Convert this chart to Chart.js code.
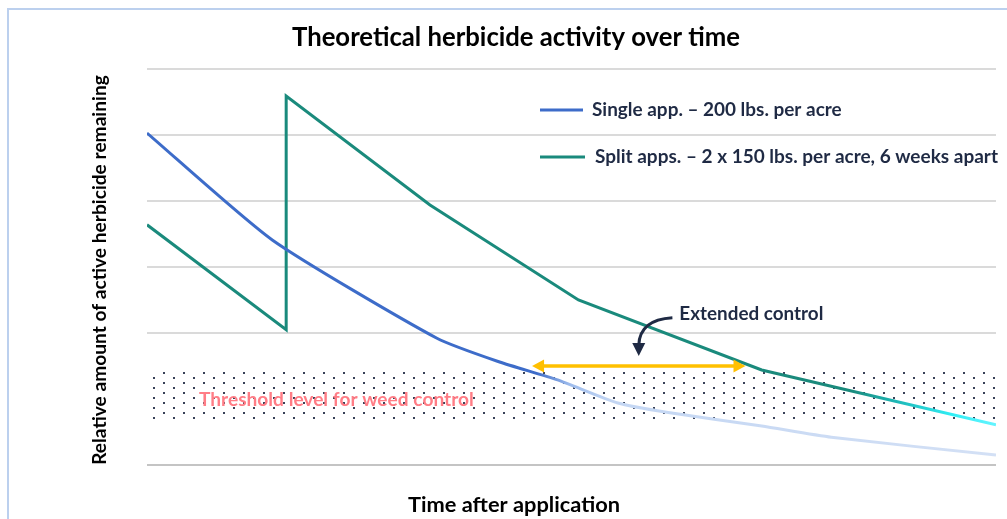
<!DOCTYPE html>
<html>
<head>
<meta charset="utf-8">
<title>Theoretical herbicide activity over time</title>
<script src="https://cdn.jsdelivr.net/npm/chart.js@4.4.1/dist/chart.umd.min.js"></script>
<style>
    html, body { margin: 0; padding: 0; background: #fff; }
    #wrap { width: 1007px; height: 519px; position: relative; }
</style>
</head>
<body>
<div id="wrap"><canvas id="activity-chart"></canvas></div>
<script>
"use strict";

// weeks after the first application, relative amount of herbicide left
var singleWeeks = [0, 5.4, 12.5, 15.2, 17.7, 20.3, 22.4, 26.5, 29.5, 36.6];
var singleLevel = [5.03, 3.41, 1.92, 1.56, 1.29, 0.94, 0.80, 0.59, 0.42, 0.15];
var splitWeeks = [0, 6, 6, 12.2, 18.6, 26.5, 36.6];
var splitLevel = [3.64, 2.05, 5.59, 3.94, 2.50, 1.44, 0.61];

var levelTicks = [0, 1, 2, 3, 4, 5, 6];
var thresholdBand = [0.65, 1.42];       // weed control threshold (low, high)
var extendedSpan = [16.6, 25.8];        // weeks where split apps still control weeds
var extendedLevel = 1.5;

var seriesLabels = ["Single app. \u2013 200 lbs. per acre",
    "Split apps. \u2013 2 x 150 lbs. per acre, 6 weeks apart"];

var FONT = "Lato, 'Open Sans', sans-serif";
var NAVY = "#1f2a44";
var BLUE = "#3d6cc9";
var TEAL = "#1a8a7c";

// font size that makes the text exactly `width` wide
function fitFont(ctx, text, width, weight) {
    ctx.font = weight + " 100px " + FONT;
    var size = 100 * width / ctx.measureText(text).width;
    return weight + " " + size.toFixed(2) + "px " + FONT;
}

function strokeGradient(chart, stops) {
    var area = chart.chartArea;
    if (!area) return stops[0][1];
    var xs = chart.scales.x;
    var g = chart.ctx.createLinearGradient(area.left, 0, area.right, 0);
    stops.forEach(function (s) {
        var p = (xs.getPixelForValue(s[0]) - area.left) / (area.right - area.left);
        g.addColorStop(Math.min(1, Math.max(0, p)), s[1]);
    });
    return g;
}

function dotPattern(ctx) {
    var tile = document.createElement("canvas");
    tile.width = 20;
    tile.height = 10;
    var t = tile.getContext("2d");
    t.fillStyle = "#384157";
    t.fillRect(3, 2, 2, 2);
    t.fillRect(13, 7, 2, 2);
    return ctx.createPattern(tile, "repeat");
}

function arrowHead(ctx, x, y, dx, dy, len, half) {
    ctx.beginPath();
    ctx.moveTo(x, y);
    ctx.lineTo(x - dx * len - dy * half, y - dy * len + dx * half);
    ctx.lineTo(x - dx * len + dy * half, y - dy * len - dx * half);
    ctx.closePath();
    ctx.fill();
}

var decor = {
    id: "herbicideDecor",
    beforeDraw: function (chart) {
        var ctx = chart.ctx;
        ctx.save();
        ctx.strokeStyle = "#bcd0ee";
        ctx.lineWidth = 2;
        ctx.strokeRect(8, 9, 1100, 600);
        ctx.restore();
    },
    beforeDatasetsDraw: function (chart) {
        var ctx = chart.ctx, area = chart.chartArea;
        var ys = chart.scales.y, xs = chart.scales.x;
        var top = Math.round(ys.getPixelForValue(thresholdBand[1]));
        var bottom = Math.round(ys.getPixelForValue(thresholdBand[0]));
        ctx.save();
        ctx.fillStyle = "#fff";
        ctx.fillRect(area.left - 1, top, area.right - area.left + 2, bottom - top);
        ctx.fillStyle = dotPattern(ctx);
        ctx.fillRect(area.left - 1, top, area.right - area.left + 2, bottom - top);

        var label = "Threshold level for weed control";
        ctx.font = fitFont(ctx, label, 275, "bold");
        ctx.fillStyle = "#ff7d86";
        ctx.textBaseline = "middle";
        ctx.fillText(label, xs.getPixelForValue(2.24), ys.getPixelForValue(0.985));
        ctx.restore();
    },
    afterDatasetsDraw: function (chart) {
        var ctx = chart.ctx;
        var xs = chart.scales.x, ys = chart.scales.y;
        ctx.save();

        // extended control span
        var x1 = xs.getPixelForValue(extendedSpan[0]);
        var x2 = xs.getPixelForValue(extendedSpan[1]);
        var y = ys.getPixelForValue(extendedLevel);
        ctx.strokeStyle = "#ffc000";
        ctx.fillStyle = "#ffc000";
        ctx.lineWidth = 3.5;
        ctx.beginPath();
        ctx.moveTo(x1 + 8, y);
        ctx.lineTo(x2 - 8, y);
        ctx.stroke();
        arrowHead(ctx, x1, y, -1, 0, 12, 6.5);
        arrowHead(ctx, x2, y, 1, 0, 12, 6.5);

        // callout
        var tipX = xs.getPixelForValue(21.2), tipY = ys.getPixelForValue(1.65);
        var sx = xs.getPixelForValue(22.65), sy = ys.getPixelForValue(2.23);
        ctx.strokeStyle = NAVY;
        ctx.fillStyle = NAVY;
        ctx.lineWidth = 3;
        ctx.beginPath();
        ctx.moveTo(sx, sy);
        ctx.quadraticCurveTo(tipX + 1, sy + 2, tipX, tipY - 11);
        ctx.stroke();
        arrowHead(ctx, tipX, tipY, 0, 1, 13, 6.5);

        ctx.textBaseline = "middle";
        var ext = "Extended control";
        ctx.font = fitFont(ctx, ext, 144, "bold");
        ctx.fillText(ext, xs.getPixelForValue(22.95), ys.getPixelForValue(2.29));

        // legend
        var colors = [BLUE, TEAL];
        var rows = [[540, 583, 592, 110, 250], [540, 585, 595, 157, 403]];
        rows.forEach(function (r, i) {
            ctx.strokeStyle = colors[i];
            ctx.lineWidth = 3;
            ctx.beginPath();
            ctx.moveTo(r[0], r[3]);
            ctx.lineTo(r[1], r[3]);
            ctx.stroke();
            ctx.fillStyle = NAVY;
            ctx.font = fitFont(ctx, seriesLabels[i], r[4], "bold");
            ctx.fillText(seriesLabels[i], r[2], r[3]);
        });

        // titles
        ctx.fillStyle = "#000";
        ctx.textAlign = "center";
        var title = "Theoretical herbicide activity over time";
        ctx.font = fitFont(ctx, title, 448, "bold");
        ctx.fillText(title, 516, 38);

        var xTitle = "Time after application";
        ctx.font = fitFont(ctx, xTitle, 212, "bold");
        ctx.fillText(xTitle, 514, 505);

        var yTitle = "Relative amount of active herbicide remaining";
        ctx.font = fitFont(ctx, yTitle, 390, "bold");
        ctx.translate(100, 270);
        ctx.rotate(-Math.PI / 2);
        ctx.fillText(yTitle, 0, 0);
        ctx.restore();
    }
};

function points(xs, ys) {
    return xs.map(function (x, i) { return { x: x, y: ys[i] }; });
}

var chart = new Chart(document.getElementById("activity-chart"), {
    type: "line",
    data: {
        datasets: [{
            label: seriesLabels[0],
            data: points(singleWeeks, singleLevel),
            borderWidth: 3,
            pointRadius: 0,
            tension: 0.2,
            borderColor: function (c) {
                return strokeGradient(c.chart, [[16.8, BLUE], [18.2, "#9dbbec"], [20, "#c3d6f3"], [36.6, "#d3e0f5"]]);
            }
        }, {
            label: seriesLabels[1],
            data: points(splitWeeks, splitLevel),
            borderWidth: 3,
            pointRadius: 0,
            tension: 0,
            borderColor: function (c) {
                return strokeGradient(c.chart, [[30.3, TEAL], [32.5, "#1fbcbc"], [34.7, "#30eef5"], [36.6, "#66f4ff"]]);
            }
        }]
    },
    options: {
        responsive: true,
        maintainAspectRatio: false,
        animation: false,
        layout: { padding: { left: 147, right: 11, top: 69, bottom: 54 } },
        plugins: {
            legend: { display: false },
            title: { display: false },
            tooltip: { enabled: false }
        },
        scales: {
            x: {
                type: "linear",
                min: 0,
                max: 36.6,
                display: false
            },
            y: {
                min: levelTicks[0],
                max: levelTicks[levelTicks.length - 1],
                afterFit: function (s) { s.width = 0; },
                afterBuildTicks: function (s) {
                    s.ticks = levelTicks.map(function (v) { return { value: v }; });
                },
                ticks: { display: false },
                border: { display: false },
                grid: {
                    drawTicks: false,
                    lineWidth: 2,
                    color: function (c) { return c.tick.value === 0 ? "#c4c4c4" : "#dadada"; }
                }
            }
        }
    },
    plugins: [decor]
});
</script>
</body>
</html>
